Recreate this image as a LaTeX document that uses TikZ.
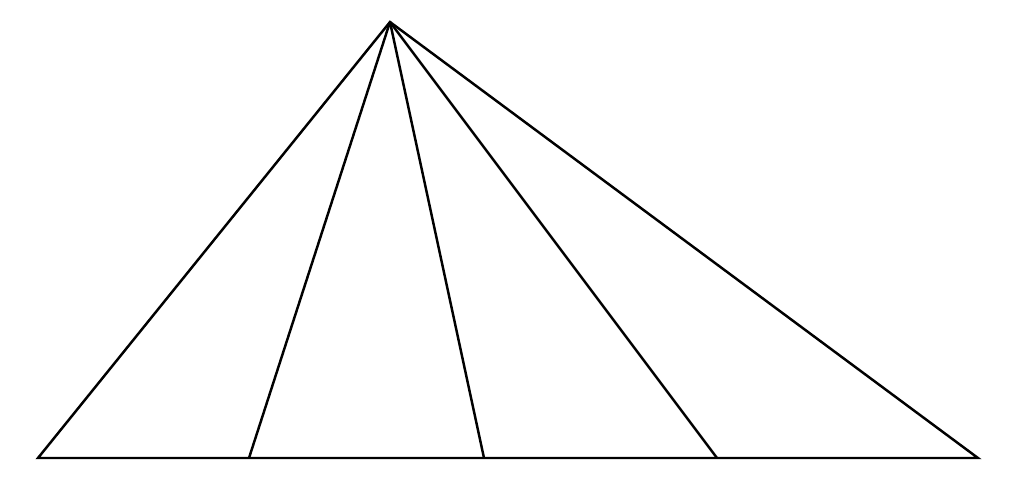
\documentclass[tikz,border=0pt]{standalone}
\usepackage{tikz}

\begin{document}
\begin{tikzpicture}

\useasboundingbox (0,0) rectangle (10.24,4.98);

\coordinate (P) at (3.90,4.76);
\coordinate (A) at (0.38,0.40);
\coordinate (D1) at (2.49,0.40);
\coordinate (D2) at (4.84,0.40);
\coordinate (D3) at (7.17,0.40);
\coordinate (C) at (9.78,0.40);

\draw[line width=0.7pt,line join=miter] (P) -- (A) -- (C) -- cycle;
\draw[line width=0.7pt] (P) -- (D1);
\draw[line width=0.7pt] (P) -- (D2);
\draw[line width=0.7pt] (P) -- (D3);
\end{tikzpicture}
\end{document}
